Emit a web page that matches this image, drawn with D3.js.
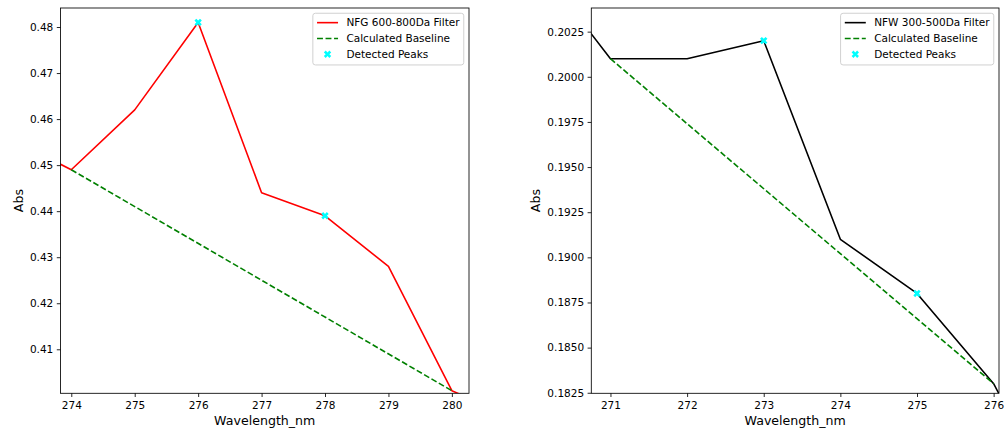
<!DOCTYPE html>
<html>
<head>
<meta charset="utf-8">
<script src="https://cdn.jsdelivr.net/npm/d3@7"></script>
<style>
  html, body { margin: 0; padding: 0; background: #fff; }
  svg { display: block; font-family: "DejaVu Sans", sans-serif; }
</style>
</head>
<body>
<svg id="chart" width="1005" height="431"></svg>
<script>
// ---------- Data ----------
// Panel A: NFG 600-800Da Filter
const wavelengthA = [273, 274, 275, 276, 277, 278, 279, 280, 281];
const absA        = [0.456, 0.449, 0.462, 0.481, 0.444, 0.439, 0.428, 0.401, 0.395];
const baselineWlA = [274, 280];
const baselineA   = [0.449, 0.401];
const peakWlA     = [276, 278];
const peakAbsA    = [0.481, 0.439];
const xTicksA     = [274, 275, 276, 277, 278, 279, 280];
const yTicksA     = [0.41, 0.42, 0.43, 0.44, 0.45, 0.46, 0.47, 0.48];
const xLimA       = [273.83, 280.27];
const yLimA       = [0.40044, 0.48413];

// Panel B: NFW 300-500Da Filter
const wavelengthB = [270, 271, 272, 273, 274, 275, 276, 277];
const absB        = [0.2065, 0.201, 0.201, 0.202, 0.191, 0.188, 0.183, 0.175];
const baselineWlB = [271, 276];
const baselineB   = [0.201, 0.183];
const peakWlB     = [273, 275];
const peakAbsB    = [0.202, 0.188];
const xTicksB     = [271, 272, 273, 274, 275, 276];
const yTicksB     = [0.1825, 0.1850, 0.1875, 0.1900, 0.1925, 0.1950, 0.1975, 0.2000, 0.2025];
const xLimB       = [270.75, 276.07];
const yLimB       = [0.18247, 0.20381];

const legendLabelsA = ["NFG 600-800Da Filter", "Calculated Baseline", "Detected Peaks"];
const legendLabelsB = ["NFW 300-500Da Filter", "Calculated Baseline", "Detected Peaks"];

// ---------- Layout ----------
const svg = d3.select("#chart");
const TICK_FS = 10.5, LABEL_FS = 12.6, TICK_LEN = 3.7;

const panels = [
  { id: "A", box: { l: 60.5, t: 8, r: 469, b: 393.3 },
    wl: wavelengthA, abs: absA, bwl: baselineWlA, bv: baselineA,
    pwl: peakWlA, pv: peakAbsA, xt: xTicksA, yt: yTicksA, xl: xLimA, yl: yLimA,
    color: "#ff0000", yfmt: d3.format(".2f"), legend: legendLabelsA },
  { id: "B", box: { l: 591.3, t: 8, r: 999, b: 393.3 },
    wl: wavelengthB, abs: absB, bwl: baselineWlB, bv: baselineB,
    pwl: peakWlB, pv: peakAbsB, xt: xTicksB, yt: yTicksB, xl: xLimB, yl: yLimB,
    color: "#000000", yfmt: d3.format(".4f"), legend: legendLabelsB }
];

const xSym = d3.symbol().type(d3.symbolCross).size(34);

panels.forEach(p => {
  const { l, t, r, b } = p.box;
  const x = d3.scaleLinear().domain(p.xl).range([l, r]);
  const y = d3.scaleLinear().domain(p.yl).range([b, t]);

  const defs = svg.append("defs");
  defs.append("clipPath").attr("id", "clip" + p.id)
    .append("rect").attr("x", l).attr("y", t).attr("width", r - l).attr("height", b - t);

  const g = svg.append("g");

  // Axes
  const xAxis = d3.axisBottom(x).tickValues(p.xt).tickFormat(d3.format("d"))
    .tickSize(TICK_LEN).tickPadding(5);
  const yAxis = d3.axisLeft(y).tickValues(p.yt).tickFormat(p.yfmt)
    .tickSize(TICK_LEN).tickPadding(3.5);

  const gx = g.append("g").attr("transform", `translate(0,${b})`).call(xAxis);
  const gy = g.append("g").attr("transform", `translate(${l},0)`).call(yAxis);
  [gx, gy].forEach(ax => {
    ax.select(".domain").remove();
    ax.selectAll(".tick line").attr("stroke", "#000").attr("stroke-width", 0.85);
    ax.selectAll(".tick text").attr("fill", "#000")
      .style("font-size", TICK_FS + "px").style("font-family", "DejaVu Sans");
  });

  // Data
  const plot = g.append("g").attr("clip-path", `url(#clip${p.id})`);
  const line = d3.line().x(d => x(d[0])).y(d => y(d[1]));

  plot.append("path")
    .datum(p.wl.map((w, i) => [w, p.abs[i]]))
    .attr("d", line).attr("fill", "none")
    .attr("stroke", p.color).attr("stroke-width", 1.6).attr("stroke-linejoin", "round");

  plot.append("path")
    .datum(p.bwl.map((w, i) => [w, p.bv[i]]))
    .attr("d", line).attr("fill", "none")
    .attr("stroke", "#008000").attr("stroke-width", 1.6)
    .attr("stroke-dasharray", "5.9,2.6");

  plot.selectAll("path.peak")
    .data(p.pwl.map((w, i) => [w, p.pv[i]]))
    .join("path").attr("class", "peak")
    .attr("d", xSym)
    .attr("transform", d => `translate(${x(d[0])},${y(d[1])}) rotate(45)`)
    .attr("fill", "#00ffff");

  // Spines
  g.append("rect").attr("x", l).attr("y", t).attr("width", r - l).attr("height", b - t)
    .attr("fill", "none").attr("stroke", "#000").attr("stroke-width", 0.85);

  // Axis labels
  g.append("text")
    .attr("x", (l + r) / 2).attr("y", b + 32)
    .attr("text-anchor", "middle").style("font-size", LABEL_FS + "px")
    .attr("fill", "#000").text("Wavelength_nm");

  const yb = gy.node().getBBox();   // local coords (relative to l)
  const ylx = l + yb.x - 7;
  g.append("text")
    .attr("transform", `translate(${ylx},${(t + b) / 2}) rotate(-90)`)
    .attr("text-anchor", "middle").style("font-size", LABEL_FS + "px")
    .attr("fill", "#000").text("Abs");

  // Legend
  const fs = TICK_FS;
  const lg = g.append("g");
  const texts = p.legend.map((s, i) =>
    lg.append("text").style("font-size", fs + "px").attr("fill", "#000").text(s));
  const maxW = d3.max(texts, tx => tx.node().getComputedTextLength());
  const pad = 0.4 * fs, handleLen = 2 * fs, handlePad = 0.8 * fs;
  const boxW = pad + handleLen + handlePad + maxW + pad;
  const boxH = 51.7;
  const bx = r - 0.5 * fs - boxW, by = t + 0.5 * fs;
  lg.insert("rect", ":first-child")
    .attr("x", bx).attr("y", by).attr("width", boxW).attr("height", boxH)
    .attr("rx", 2.5).attr("ry", 2.5)
    .attr("fill", "#fff").attr("fill-opacity", 0.8)
    .attr("stroke", "#cccccc").attr("stroke-width", 0.9);
  const rowY = i => by + 9.4 + i * 15.8;
  const hx0 = bx + pad, hx1 = hx0 + handleLen;
  texts.forEach((tx, i) => tx.attr("x", hx1 + handlePad).attr("y", rowY(i)).attr("dy", "0.35em"));
  lg.append("line").attr("x1", hx0).attr("x2", hx1).attr("y1", rowY(0)).attr("y2", rowY(0))
    .attr("stroke", p.color).attr("stroke-width", 1.6);
  lg.append("line").attr("x1", hx0).attr("x2", hx1).attr("y1", rowY(1)).attr("y2", rowY(1))
    .attr("stroke", "#008000").attr("stroke-width", 1.6).attr("stroke-dasharray", "5.9,2.6");
  lg.append("path").attr("d", xSym)
    .attr("transform", `translate(${(hx0 + hx1) / 2},${rowY(2)}) rotate(45)`)
    .attr("fill", "#00ffff");
});
</script>
</body>
</html>
